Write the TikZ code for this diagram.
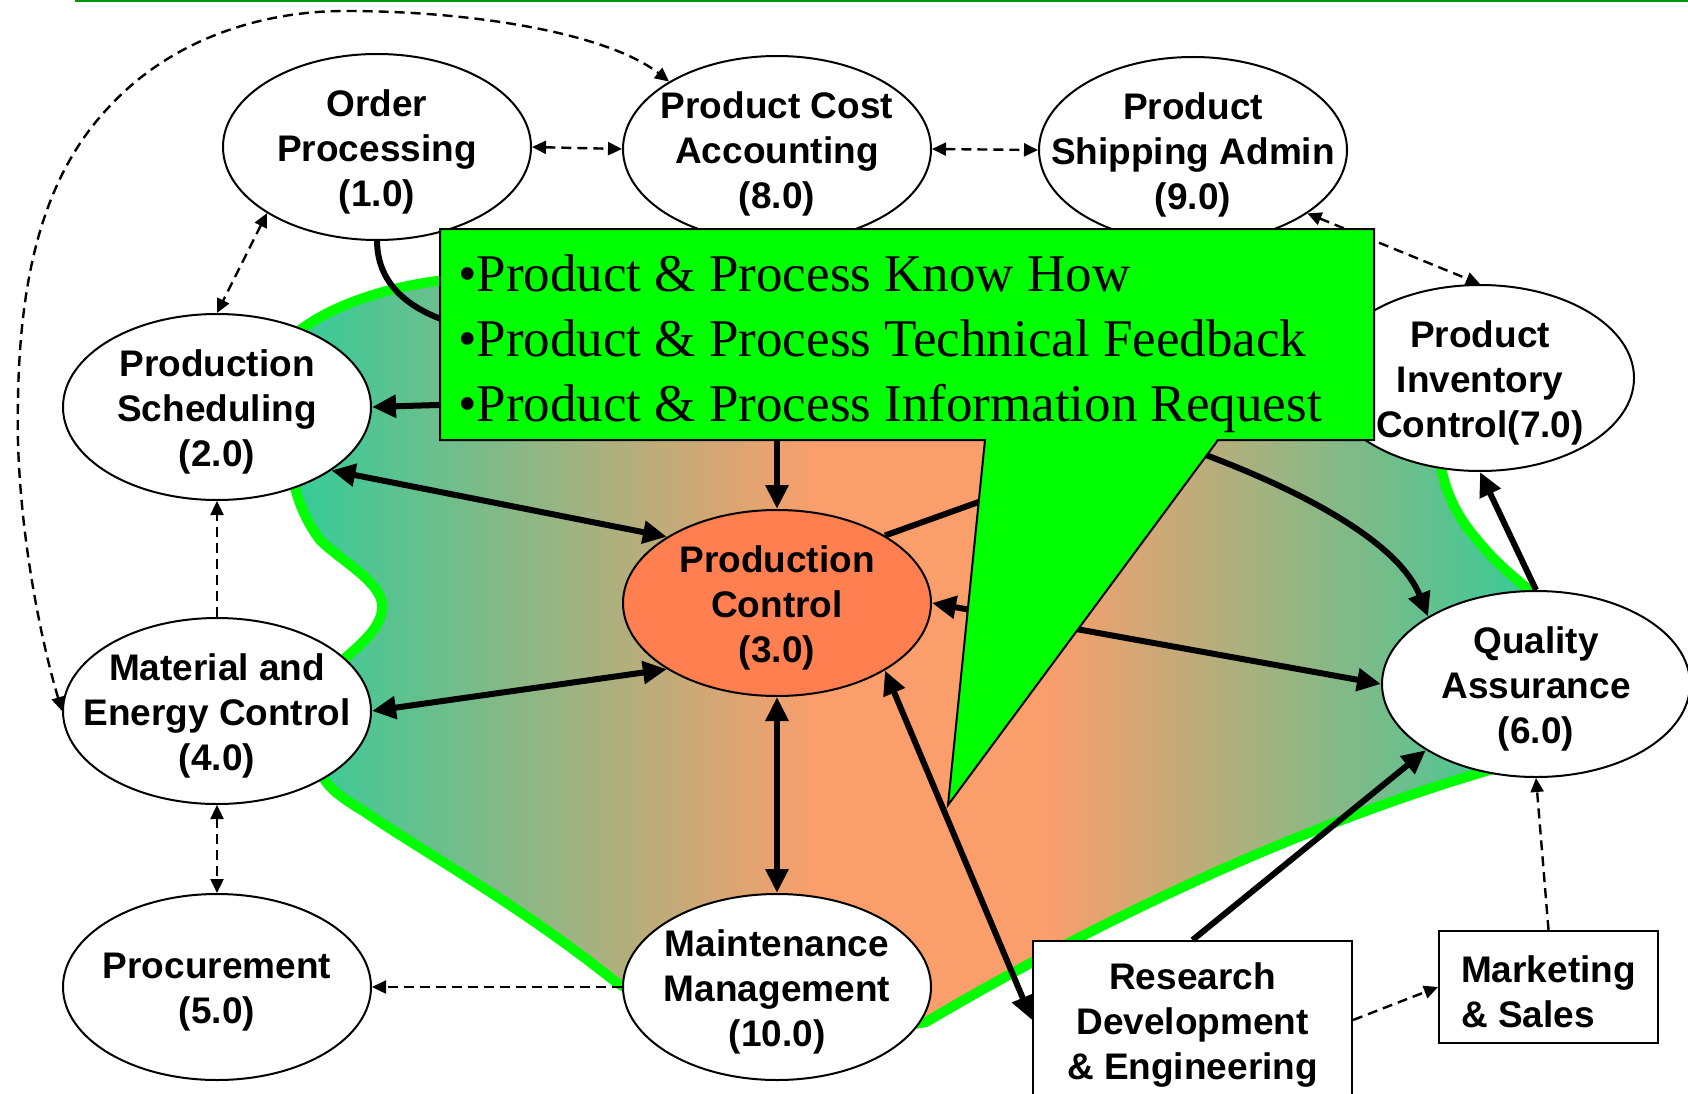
\documentclass[tikz,border=0pt]{standalone}
\usepackage{fontspec}
\setmainfont{Liberation Serif}
\setsansfont{Liberation Sans}
\usetikzlibrary{shapes.geometric,arrows.meta}
\definecolor{tealc}{RGB}{51,204,153}
\definecolor{orangec}{RGB}{250,158,108}
\definecolor{coralc}{RGB}{255,127,80}
\definecolor{topgreen}{RGB}{0,153,0}
\definecolor{callgreen}{RGB}{0,255,0}
\pgfdeclarehorizontalshading{blobshade}{100bp}{color(0bp)=(tealc); color(25bp)=(tealc); color(46bp)=(orangec); color(55bp)=(orangec); color(75bp)=(tealc); color(100bp)=(tealc)}
\tikzset{
  proc/.style={ellipse, draw, line width=2pt, fill=white, minimum width=308pt, minimum height=186pt, inner sep=0pt},
  ptext/.style={font=\sffamily\bfseries\fontsize{37}{45}\selectfont, align=center, inner sep=0pt, yshift=-5pt},
  extbox/.style={draw, line width=2pt, fill=white, inner sep=0pt},
  tline/.style={line width=6pt},
  tone/.style={tline, -{Triangle[length=24pt,width=22pt]}},
  ttwo/.style={tline, {Triangle[length=24pt,width=22pt]}-{Triangle[length=24pt,width=22pt]}},
  dline/.style={line width=2.4pt, dash pattern=on 10pt off 6pt},
  done/.style={dline, -{Triangle[length=14pt,width=13pt]}},
  dtwo/.style={dline, {Triangle[length=14pt,width=13pt]}-{Triangle[length=14pt,width=13pt]}},
  blob/.style={draw=callgreen, line width=10pt, line join=round, shading=blobshade},
  calltext/.style={font=\fontsize{53}{65}\selectfont, anchor=base west, inner sep=0pt},
}
\begin{document}
\begin{tikzpicture}[x=1pt,y=1pt]
\useasboundingbox (0,0) rectangle (1688,-1094);
% top rule
\coordinate (TL) at (75,-1);
\coordinate (TR) at (1688,-1);
\draw[topgreen, line width=2pt] (TL) -- (TR);
% background blob
\draw[blob] (300,-330) .. controls (340,-300) and (400,-285) .. (445,-280)
 -- (1000,-265) -- (1350,-300) -- (1400,-420) -- (1440,-462)
 .. controls (1445,-490) and (1455,-515) .. (1479,-542)
 .. controls (1495,-562) and (1515,-578) .. (1535,-595)
 -- (1545,-680) -- (1500,-767)
 .. controls (1350,-810) and (1150,-890) .. (926,-1022)
 -- (880,-1030) -- (650,-1000) -- (617,-983)
 .. controls (520,-905) and (420,-850) .. (365,-812)
 .. controls (345,-800) and (330,-790) .. (323,-777)
 -- (300,-760) -- (344,-659)
 .. controls (360,-645) and (385,-625) .. (382,-603)
 .. controls (378,-580) and (340,-560) .. (320,-540)
 .. controls (305,-520) and (298,-500) .. (295,-487)
 -- (290,-460) -- cycle;
% nodes
\node[proc] (OP) at (377,-147) {};
\node[ptext] (OPt) at (OP) {Order\\Processing\\(1.0)};
\node[proc] (PCA) at (777,-149) {};
\node[ptext] (PCAt) at (PCA) {Product Cost\\Accounting\\(8.0)};
\node[proc] (PSA) at (1193,-150) {};
\node[ptext] (PSAt) at (PSA) {Product\\Shipping Admin\\(9.0)};
\node[proc] (PS) at (217,-407) {};
\node[ptext] (PSt) at (PS) {Production\\Scheduling\\(2.0)};
\node[proc] (INV) at (1480,-378) {};
\node[ptext] (INVt) at (INV) {Product\\Inventory\\Control(7.0)};
\node[proc, fill=coralc] (PC) at (777,-603) {};
\node[ptext] (PCt) at (PC) {Production\\Control\\(3.0)};
\node[proc] (ME) at (217,-711) {};
\node[ptext] (MEt) at (ME) {Material and\\Energy Control\\(4.0)};
\node[proc] (QA) at (1536,-684) {};
\node[ptext] (QAt) at (QA) {Quality\\Assurance\\(6.0)};
\node[proc] (PRO) at (217,-987) {};
\node[ptext] (PROt) at (PRO) {Procurement\\(5.0)};
\node[proc] (MM) at (777,-987) {};
\node[ptext] (MMt) at (MM) {Maintenance\\Management\\(10.0)};
\node[extbox, minimum width=319pt, minimum height=158pt] (RD) at (1192.5,-1020) {};
\node[ptext] (RDt) at (RD) {Research\\Development\\\& Engineering};
\node[extbox, minimum width=219pt, minimum height=112pt] (MS) at (1548.5,-987) {};
\node[ptext, align=left] (MSt) at (MS) {Marketing\\\& Sales};
% dashed connectors
\draw[dtwo] (ME.west) .. controls (35,-620) and (15,-500) .. (18,-400)
  .. controls (20,-260) and (50,-170) .. (108,-108)
  .. controls (170,-40) and (260,-11) .. (345,-11)
  .. controls (480,-11) and (610,-35) .. (PCA.148);
\draw[dtwo] (OP.east) -- (PCA.west);
\draw[dtwo] (PCA.east) -- (PSA.west);
\draw[dtwo] (PSA.-29.5) -- (INV.north);
\draw[dtwo] (OP.211) -- (PS.north);
\draw[done] (ME.north) -- (PS.south);
\draw[dtwo] (ME.south) -- (PRO.north);
\draw[done] (MM.west) -- (PRO.east);
\draw[done] (RD.east) -- (MS.west);
\draw[done] (MS.north) -- (QA.south);
% thick connectors
\draw[tone] (OP.south) .. controls (378,-320) and (480,-340) .. (600,-340)
  .. controls (900,-340) and (1370,-470) .. (QA.148);
\draw[tone] (PCA.south) -- (PC.north);
\draw[tone] (INV.west) -- (PS.east);
\draw[tline] (PC.32) -- (INV.west);
\draw[ttwo] (PS.-29.6) -- (PC.149);
\draw[ttwo] (ME.east) -- (PC.211);
\draw[ttwo] (PC.south) -- (MM.north);
\draw[ttwo] (PC.-32) -- (RD.west);
\draw[ttwo] (PC.east) -- (QA.west);
\draw[tone] (QA.north) -- (INV.south);
\draw[tone] (RD.north) -- (QA.211);
% callout
\draw[fill=callgreen, line width=2pt, line join=miter] (440,-229) -- (1374,-229) -- (1374,-440) -- (1218,-440)
  -- (948,-805) -- (985,-440) -- (440,-440) -- cycle;
\node[calltext] (C1) at (458,-291.5) {•Product \& Process Know How};
\node[calltext] (C2) at (458,-356.5) {•Product \& Process Technical Feedback};
\node[calltext] (C3) at (458,-421.5) {•Product \& Process Information Request};
\end{tikzpicture}
\end{document}
